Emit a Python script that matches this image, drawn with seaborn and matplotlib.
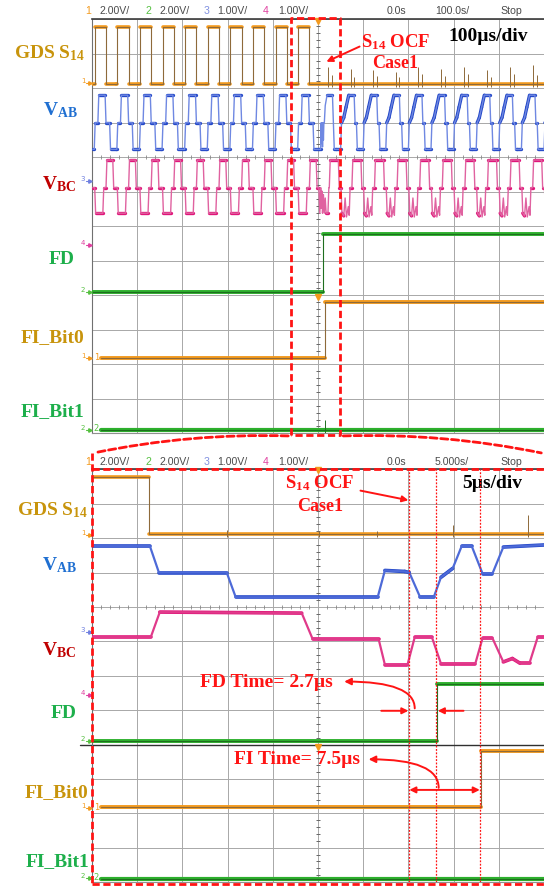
import numpy as np
import pandas as pd
import matplotlib
matplotlib.use("Agg")
import matplotlib.pyplot as plt
import seaborn as sns
from matplotlib.lines import Line2D
from matplotlib.patches import FancyArrowPatch

W, H = 544, 889

# ---------------- upper capture: 100 us/div, time in us ----------------
pre_cycle_us = [-498, -448, -398, -348, -298, -248, -198, -148, -98, -48]
gds_cycle_t = [0, 4, 4, 29, 29, 50]
gds_cycle_v = [0, 0, 1, 1, 0, 0]
vab_pre_t = [0, 3, 5, 11, 13, 27, 29, 37, 39, 50]
vab_pre_v = [-0.77, -0.77, 0, 0, 0.8, 0.8, 0, 0, -0.77, -0.77]
vbc_pre_t = [0, 4, 6, 22, 24, 29, 31, 44, 46, 50]
vbc_pre_v = [0, 0, -0.74, -0.74, 0, 0, 0.8, 0.8, 0, 0]

# ringing right after the fault
vab_fault_t = [2, 6, 7, 8, 9, 10, 11, 12, 13, 14, 16, 20, 32, 34, 36, 40]
vab_fault_v = [-0.77, -0.77, 0, -0.6, 0, -0.7, 0, -0.5, 0, 0, 0.5, 0.8, 0.8, 0, -0.77, -0.77]
vbc_fault_t = [2, 4, 6, 7, 9, 10, 12, 14, 16, 18, 22, 24, 25, 27]
vbc_fault_v = [0, -0.74, 0, -0.6, -0.1, -0.74, -0.2, -0.74, -0.3, -0.74, -0.74, 0, 0, 0.8]

vab_post_cycle_us = [40, 90, 140, 190, 240, 290, 340, 390, 440, 490]
vab_post_t = [0, 10, 12, 17, 22, 28, 40, 42, 45, 47, 50]
vab_post_v = [-0.77, -0.77, 0, 0.15, 0.45, 0.8, 0.8, 0, 0, -0.77, -0.77]
vbc_post_cycle_us = [27, 77, 127, 177, 227, 277, 327, 377, 427, 477]
vbc_post_t = [0, 18, 20, 24, 26, 30, 33, 36, 40, 42, 44, 48, 50]
vbc_post_v = [0.8, 0.8, 0, 0, -0.74, -0.82, -0.3, -0.85, -0.55, -0.8, 0, 0, 0.8]

gds_spike_us = [22, 30, 72, 80, 122, 130, 172, 180, 222, 230, 273, 281, 323, 331, 374, 382, 425, 433, 476, 484]
gds_spike_div = [0.5, 0.28, 0.45, 0.2, 0.4, 0.25, 0.35, 0.2, 0.5, 0.3, 0.45, 0.25, 0.5, 0.3, 0.4, 0.22, 0.5, 0.3, 0.55, 0.28]

fd_top_t = [-500, 11, 11, 500]
fi0_top_t = [-479, 16, 16, 500]
fi1_top_t = [-479, 500]
step_v = [0, 0, 1, 1]

# ---------------- lower capture: 5 us/div, time in us ----------------
gds_b_t = [-25, -18.7, -18.7, 25]
gds_b_v = [1, 1, 0, 0]
gds_b_spike_us = [-10.1, 0.1, 6.5, 14.9, 23.2]
gds_b_spike_div = [0.12, 0.08, 0.1, 0.25, 0.55]
vab_b_t = [-25, -18.6, -17.6, -10.1, -9.1, 6.6, 7.4, 9.6, 10.1, 11.3, 12.8, 13.6, 14.9, 15.9, 17.0, 18.2, 19.3, 20.5, 25]
vab_b_v = [0.77, 0.77, 0, 0, -0.72, -0.72, 0.06, 0.03, 0.0, -0.72, -0.72, -0.14, 0.12, 0.77, 0.77, -0.03, -0.03, 0.74, 0.8]
vbc_b_t = [-25, -18.5, -17.5, -1.8, -0.6, 6.7, 7.4, 9.9, 10.7, 12.6, 13.6, 17.4, 18.2, 19.3, 20.5, 21.5, 22.3, 23.4, 24.3, 25]
vbc_b_v = [0, 0, 0.73, 0.7, -0.05, -0.05, -0.8, -0.8, 0, 0, -0.77, -0.77, -0.03, -0.03, -0.72, -0.62, -0.75, -0.75, 0, 0]
fd_b_t = [-25, 13.2, 13.2, 25]
fi0_b_t = [-24, 18.0, 18.0, 25]
fi1_b_t = [-24, 25]
event_us = [10.1, 13.1, 17.9]   # OCF, FD, FI

# screen colours
ORANGE, ORANGE_THIN = "#F39A1E", "#8E6A3A"
BLUE, BLUE_THIN = "#2448C8", "#6F88E2"
PINK, PINK_THIN = "#E0157A", "#E062A0"
GREEN, GREEN_THIN = "#2DB02D", "#1F6E1F"
RED = "#FF1414"
GOLD, LGREEN, LBLUE, DRED = "#C8940C", "#1DAF4B", "#1F6FD1", "#C00000"

# channel placement on the 12-row screen (base, div per unit)
PLACE = {"gds": (10.12, 1.65), "vab": (9.0, 1.0), "vbc": (7.12, 1.0),
         "fd": (4.1, 1.67), "fi0": (2.18, 1.62), "fi1": (0.1, 1.6)}


def tile(starts, ct, cv):
    t, v = [], []
    for s in starts:
        t += [s + x for x in ct]
        v += list(cv)
    return t, v


def draw_trace(ax, t, v, key, thick, thin, lw=2.4, thin_lw=0.8, flat=0.06):
    base, scale = PLACE[key]
    t = np.asarray(t, float)
    y = base + np.asarray(v, float) * scale
    rows = []
    for i in range(len(t) - 1):
        dt = t[i + 1] - t[i]
        if dt > 0 and abs(y[i + 1] - y[i]) < flat * max(dt, 1):
            rows += [(t[i], y[i], i), (t[i + 1], y[i + 1], i)]
    df = pd.DataFrame(rows, columns=["t", "y", "seg"])
    sns.lineplot(data=df, x="t", y="y", units="seg", estimator=None, sort=False,
                 color=thick, lw=lw, ax=ax, legend=False, zorder=3)
    sns.lineplot(x=t, y=y, estimator=None, sort=False, color=thin, lw=thin_lw, ax=ax, zorder=4)


def spikes(ax, ts, hs, key, color):
    base, _ = PLACE[key]
    ax.vlines(ts, base - 0.08, [base + h for h in hs], color=color, lw=0.7, zorder=4)


def F(x, y):
    return x / W, 1 - y / H


sns.set_style("white")
plt.rcParams["font.family"] = ["Liberation Serif", "DejaVu Serif"]
plt.rcParams["mathtext.fontset"] = "custom"
plt.rcParams["mathtext.rm"] = "Liberation Serif:bold"
plt.rcParams["mathtext.bf"] = "Liberation Serif:bold"
plt.rcParams["mathtext.it"] = "Liberation Serif:bold"

fig = plt.figure(figsize=(W / 100, H / 100), dpi=100)
fig.patch.set_facecolor("white")
ax1 = fig.add_axes([92 / W, 1 - 433.3 / H, 452 / W, 414 / H])
ax2 = fig.add_axes([92 / W, 1 - 882.1 / H, 452 / W, 412.8 / H])


def screen(ax, half):
    ax.set_xlim(-half, half)
    ax.set_ylim(0, 12)
    ax.set_xticks(np.linspace(-half, half, 11))
    ax.set_yticks(range(13))
    ax.grid(True, color="#a8a8a8", lw=0.7)
    ax.set_axisbelow(True)
    ax.tick_params(length=0, labelbottom=False, labelleft=False)
    ax.set(xlabel="", ylabel="")
    ax.spines["top"].set_color("#3c3c3c")
    ax.spines["top"].set_linewidth(1.2)
    ax.spines["left"].set_color("#707070")
    ax.spines["bottom"].set_color("#909090")
    ax.spines["bottom"].set_linewidth(0.8)
    ax.spines["right"].set_visible(False)
    yt = [k * 0.2 for k in range(61) if k % 5]
    ax.plot([0] * len(yt), yt, ls="none", marker="_", ms=3.2, mew=0.7, color="#666666", zorder=2)
    xt = [-half + k * half / 25 for k in range(51) if k % 5]
    ax.plot(xt, [8] * len(xt), ls="none", marker="|", ms=2.4, mew=0.6, color="#888888", zorder=2)


# ---- upper traces ----
t, v = tile(pre_cycle_us, gds_cycle_t, gds_cycle_v)
draw_trace(ax1, t + [2, 500], v + [0, 0], "gds", ORANGE, ORANGE_THIN, lw=2.6)
spikes(ax1, gds_spike_us, gds_spike_div, "gds", ORANGE_THIN)

t, v = tile(pre_cycle_us, vab_pre_t, vab_pre_v)
t2, v2 = tile(vab_post_cycle_us, vab_post_t, vab_post_v)
draw_trace(ax1, t + vab_fault_t + t2, v + vab_fault_v + v2, "vab", BLUE, BLUE_THIN, thin_lw=1.0)

t, v = tile(pre_cycle_us, vbc_pre_t, vbc_pre_v)
t2, v2 = tile(vbc_post_cycle_us, vbc_post_t, vbc_post_v)
draw_trace(ax1, t + vbc_fault_t + t2, v + vbc_fault_v + v2, "vbc", PINK, PINK_THIN, thin_lw=1.0)

draw_trace(ax1, fd_top_t, step_v, "fd", GREEN, GREEN_THIN, lw=2.8)
draw_trace(ax1, fi0_top_t, step_v, "fi0", ORANGE, ORANGE_THIN, lw=2.8)
draw_trace(ax1, fi1_top_t, [0, 0], "fi1", GREEN, GREEN_THIN, lw=3.0)
spikes(ax1, [16], [0.3], "fi1", GREEN_THIN)
screen(ax1, 500)

# ---- lower traces ----
draw_trace(ax2, gds_b_t, gds_b_v, "gds", ORANGE, ORANGE_THIN, lw=2.6)
spikes(ax2, gds_b_spike_us, gds_b_spike_div, "gds", ORANGE_THIN)
draw_trace(ax2, vab_b_t, vab_b_v, "vab", BLUE, "#4d6ad8", lw=2.6, thin_lw=1.6, flat=0.3)
draw_trace(ax2, vbc_b_t, vbc_b_v, "vbc", PINK, "#e03a8a", lw=2.6, thin_lw=1.6, flat=0.3)
draw_trace(ax2, fd_b_t, step_v, "fd", GREEN, GREEN_THIN, lw=2.8)
draw_trace(ax2, fi0_b_t, step_v, "fi0", ORANGE, ORANGE_THIN, lw=2.8)
draw_trace(ax2, fi1_b_t, [0, 0], "fi1", GREEN, GREEN_THIN, lw=3.0)
screen(ax2, 25)
ax2.plot([-26.3, 25], [4, 4], color="#303030", lw=1.0, zorder=2, clip_on=False)
for ev in event_us:
    ax2.axvline(ev, color=RED, lw=0.9, ls=(0, (1.5, 1.2)), zorder=5)

# trigger markers
for ax, ys in ((ax1, (11.95, 3.95)), (ax2, (11.97, 3.92))):
    ax.plot([0, 0], ys, ls="none", marker="v", ms=4, color=ORANGE, clip_on=False, zorder=6)

# ---- header lines ----
head_items = [(85.5, "1", ORANGE), (100, "2.00V/", "#4a4a4a"), (145, "2", "#55C040"),
              (159, "2.00V/", "#4a4a4a"), (204, "3", "#8090E0"), (217.5, "1.00V/", "#4a4a4a"),
              (263, "4", "#E040A0"), (278, "1.00V/", "#4a4a4a"), (387, "0.0s", "#4a4a4a")]
for hy, tdiv in ((11, "100.0s/"), (461.7, "5.000s/")):
    for hx, s, c in head_items + [(435, tdiv, "#4a4a4a"), (500, "Stop", "#4a4a4a")]:
        fig.text(*F(hx, hy), s, color=c, fontsize=7.6, family="Liberation Sans", ha="left", va="center")

# ---- ground markers ----
gnd_top = [(83, "1", ORANGE), (181, "3", "#7080E0"), (245, "4", "#E040A0"),
           (292, "2", "#55C040"), (358, "1", ORANGE), (430, "2", "#55C040")]
gnd_bot = [(535, "1", ORANGE), (632, "3", "#7080E0"), (695, "4", "#E040A0"),
           (741, "2", "#55C040"), (808, "1", ORANGE), (878, "2", "#55C040")]
for gy, d, c in gnd_top + gnd_bot:
    fig.text(*F(83, gy - 2), d, color=c, fontsize=5, family="DejaVu Sans", ha="center", va="center")
    fig.add_artist(Line2D([86 / W, 90 / W], [1 - gy / H] * 2, color=c, lw=0.8))
    fig.add_artist(Line2D([90 / W], [1 - gy / H], color=c, marker=">", ms=2.5, ls="none"))
for gy, d, c in ((358, "1", ORANGE), (430, "2", "#55C040"), (808, "1", ORANGE), (878, "2", "#55C040")):
    fig.text(*F(96.5, gy - 1), d, color=c, fontsize=6, family="DejaVu Sans", ha="center", va="center")

# ---- channel names ----
names = [("GDS S$_{14}$", GOLD), ("V$_{\\mathrm{AB}}$", LBLUE), ("V$_{\\mathrm{BC}}$", DRED),
         ("FD", LGREEN), ("FI_Bit0", GOLD), ("FI_Bit1", LGREEN)]
top_pos = [(50, 53), (60, 110), (59, 184), (62, 260), (53, 338), (53, 412)]
bot_pos = [(53, 510), (59, 565), (59, 650), (64, 713), (57, 793), (58, 862)]
for (s, c), p1, p2 in zip(names, top_pos, bot_pos):
    for p in (p1, p2):
        fig.text(*F(*p), s, color=c, fontsize=14, fontweight="bold", ha="center", va="center")

# ---- annotations, upper ----
bold = dict(fontweight="bold", family="Liberation Serif")
ax1.text(172, 11.35, "S$_{14}$ OCF", color=RED, fontsize=13.5, ha="center", va="center", **bold)
ax1.text(170, 10.72, "Case1", color=RED, fontsize=13, ha="center", va="center", **bold)
ax1.text(376, 11.5, "100µs/div", color="black", fontsize=14, ha="center", va="center", **bold)
ax1.annotate("", xy=(18.6, 10.77), xytext=(92, 11.21),
             arrowprops=dict(arrowstyle="-|>", color=RED, lw=1.4, mutation_scale=9, shrinkA=0, shrinkB=0))

# ---- annotations, lower ----
ax2.text(0.2, 11.59, "S$_{14}$ OCF", color=RED, fontsize=13.5, ha="center", va="center", **bold)
ax2.text(0.2, 10.91, "Case1", color=RED, fontsize=13, ha="center", va="center", **bold)
ax2.text(19.3, 11.59, "5µs/div", color="black", fontsize=14, ha="center", va="center", **bold)
ax2.annotate("", xy=(event_us[0] - 0.1, 11.1), xytext=(4.7, 11.38),
             arrowprops=dict(arrowstyle="-|>", color=RED, lw=1.4, mutation_scale=9, shrinkA=0, shrinkB=0))
ax2.text(-13.0, 5.8, "FD Time= 2.7µs", color=RED, fontsize=14, ha="left", va="center", **bold)
ax2.text(-9.3, 3.55, "FI Time= 7.5µs", color=RED, fontsize=14, ha="left", va="center", **bold)
curve = dict(arrowstyle="-|>", color=RED, lw=1.4, mutation_scale=10, shrinkA=0, shrinkB=0,
             connectionstyle="angle3,angleA=90,angleB=0")
ax2.annotate("", xy=(2.9, 5.83), xytext=(10.7, 5.05), arrowprops=curve)
ax2.annotate("", xy=(5.6, 3.57), xytext=(13.35, 2.74), arrowprops=curve)
straight = dict(arrowstyle="-|>", color=RED, lw=1.4, mutation_scale=9, shrinkA=0, shrinkB=0)
ax2.annotate("", xy=(event_us[0] - 0.1, 4.98), xytext=(7.0, 4.98), arrowprops=straight)
ax2.annotate("", xy=(event_us[1] + 0.15, 4.98), xytext=(16.1, 4.98), arrowprops=straight)
ax2.annotate("", xy=(event_us[2], 2.68), xytext=(event_us[0], 2.68),
             arrowprops=dict(arrowstyle="<|-|>", color=RED, lw=1.4, mutation_scale=9, shrinkA=0, shrinkB=0))

# ---- red dashed zoom frame ----
dash = (0, (2.6, 1.3))
ax1.plot([-60.4, -60.4, 49.1, 49.1, -60.4], [-0.05, 12.03, 12.03, -0.05, -0.05],
         color=RED, lw=2.0, ls=dash, clip_on=False, zorder=7)
for a, b, rad in (((291, 436), (92, 453.3), 0.06), ((340.5, 436), (544, 453.5), -0.06)):
    fig.add_artist(FancyArrowPatch(F(*a), F(*b), transform=fig.transFigure, arrowstyle="-",
                                   connectionstyle=f"arc3,rad={rad}", color=RED, lw=2.0, linestyle=dash))
for xs, ys in (([92, 92], [453.3, 884]), ([92, 544], [884, 884]), ([92, 544], [469.3, 469.3])):
    fig.add_artist(Line2D([x / W for x in xs], [1 - y / H for y in ys], color=RED, lw=2.0, ls=dash))

fig.savefig("out.png", dpi=100)
